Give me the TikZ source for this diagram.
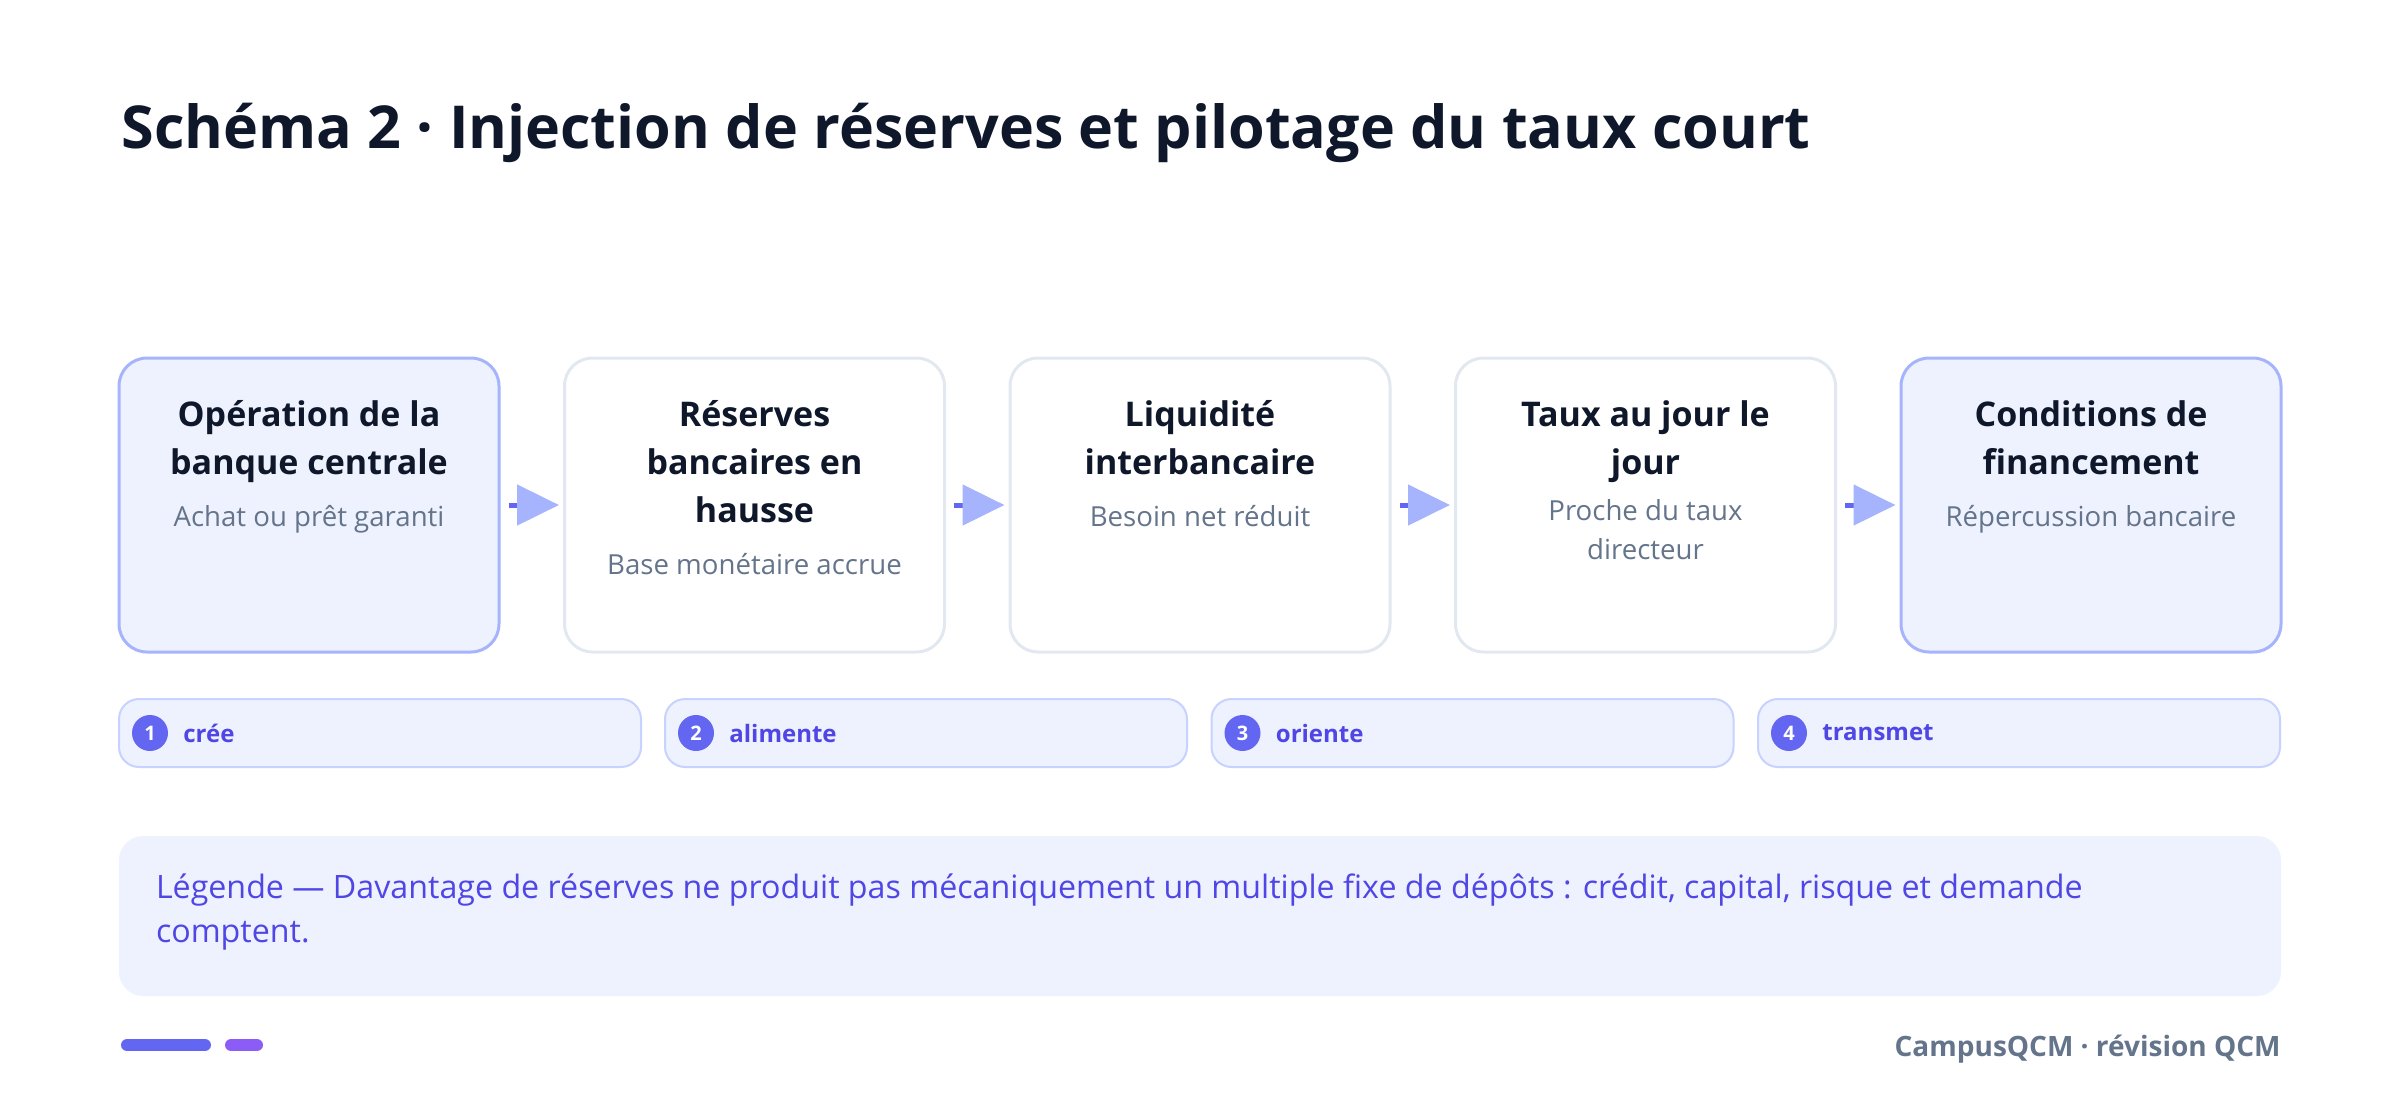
\documentclass[tikz,border=0pt]{standalone}
\usepackage{fontspec}
\setmainfont{Open Sans}
\usetikzlibrary{arrows.meta}

\definecolor{ink}{HTML}{0F172A}
\definecolor{subgray}{HTML}{64748B}
\definecolor{indigo}{HTML}{6366F1}
\definecolor{pillink}{HTML}{4F46E5}
\definecolor{keyfill}{HTML}{EEF2FF}
\definecolor{keyline}{HTML}{A5B4FC}
\definecolor{pillline}{HTML}{C7D2FE}
\definecolor{cardline}{HTML}{E2E8F0}
\definecolor{violet}{HTML}{8B5CF6}

\tikzset{
  card/.style={draw=cardline, fill=white, line width=1.5pt, rounded corners=14pt,
    minimum width=190pt, minimum height=147pt, inner sep=0pt},
  keycard/.style={card, draw=keyline, fill=keyfill},
  cardtitle/.style={anchor=north, align=center, inner sep=0pt, text=ink,
    font=\bfseries\fontsize{17pt}{24pt}\selectfont,
    execute at begin node=\strut, execute at end node=\strut},
  cardsub/.style={anchor=north, align=center, inner sep=0pt, text=subgray,
    font=\fontsize{13.8pt}{19.5pt}\selectfont,
    execute at begin node=\strut, execute at end node=\strut},
  link/.style={line width=2.5pt, draw=indigo,
    -{Triangle[length=21pt, width=20pt, color=keyline]}, shorten <=4pt, shorten >=2pt},
  pill/.style={draw=pillline, fill=keyfill, line width=1pt, rounded corners=10pt,
    minimum width=261pt, minimum height=34pt, inner sep=0pt},
  badge/.style={circle, fill=indigo, minimum size=18pt, inner sep=0pt, text=white,
    font=\bfseries\fontsize{10pt}{10pt}\selectfont},
  pilltext/.style={anchor=west, inner sep=0pt, text=pillink,
    font=\bfseries\fontsize{12pt}{14pt}\selectfont},
}

\begin{document}
\begin{tikzpicture}[x=0.5pt, y=-0.5pt]
    \useasboundingbox (0,0) rectangle (2400,1105);

    % Title
    \node[anchor=base west, inner sep=0pt, text=ink, font=\bfseries\fontsize{29.6pt}{36pt}\selectfont]
      (title) at (121,148) {Schéma 2 · Injection de réserves et pilotage du taux court};

    % Cards
    \node[keycard] (b1) at (309,505) {};
    \node[card] (b2) at (754.5,505) {};
    \node[card] (b3) at (1200,505) {};
    \node[card] (b4) at (1645.5,505) {};
    \node[keycard] (b5) at (2091,505) {};

    % Card texts
    \node[cardtitle] (t1) at ([yshift=-22pt]b1.north) {Opération de la\\banque centrale};
    \node[cardsub] (s1) at ([yshift=-4.6pt]t1.south) {Achat ou prêt garanti};
    \node[cardtitle] (t2) at ([yshift=-22pt]b2.north) {Réserves\\bancaires en\\hausse};
    \node[cardsub] (s2) at ([yshift=-4.6pt]t2.south) {Base monétaire accrue};
    \node[cardtitle] (t3) at ([yshift=-22pt]b3.north) {Liquidité\\interbancaire};
    \node[cardsub] (s3) at ([yshift=-4.6pt]t3.south) {Besoin net réduit};
    \node[cardtitle] (t4) at ([yshift=-22pt]b4.north) {Taux au jour le\\jour};
    \node[cardsub] (s4) at ([yshift=-4.6pt]t4.south) {Proche du taux\\directeur};
    \node[cardtitle] (t5) at ([yshift=-22pt]b5.north) {Conditions de\\financement};
    \node[cardsub] (s5) at ([yshift=-4.6pt]t5.south) {Répercussion bancaire};

    % Arrows between cards
    \draw[link] (b1) -- (b2);
    \draw[link] (b2) -- (b3);
    \draw[link] (b3) -- (b4);
    \draw[link] (b4) -- (b5);

    % Step pills
    \node[pill] (p1) at (380,733) {};
    \node[pill] (p2) at (926,733) {};
    \node[pill] (p3) at (1472.5,733) {};
    \node[pill] (p4) at (2019,733) {};
    \node[badge] (n1) at ([xshift=16pt]p1.west) {1};
    \node[badge] (n2) at ([xshift=16pt]p2.west) {2};
    \node[badge] (n3) at ([xshift=16pt]p3.west) {3};
    \node[badge] (n4) at ([xshift=16pt]p4.west) {4};
    \node[pilltext] (v1) at ([xshift=32.5pt]p1.west) {crée};
    \node[pilltext] (v2) at ([xshift=32.5pt]p2.west) {alimente};
    \node[pilltext] (v3) at ([xshift=32.5pt]p3.west) {oriente};
    \node[pilltext] (v4) at ([xshift=32.5pt]p4.west) {transmet};

    % Legend
    \node[fill=keyfill, rounded corners=12pt, minimum width=1081pt, minimum height=80pt, inner sep=0pt]
      (note) at (1200,916) {};
    \node[anchor=north west, align=left, inner sep=0pt, text=pillink,
      font=\fontsize{16.1pt}{22pt}\selectfont,
      execute at begin node=\strut, execute at end node=\strut]
      (notetext) at ([xshift=18.5pt, yshift=-19pt]note.north west)
      {Légende — Davantage de réserves ne produit pas mécaniquement un multiple fixe de dépôts : crédit, capital, risque et demande\\comptent.};

    % Footer
    \draw[indigo, line width=6pt, line cap=round] (127,1045) -- (205,1045);
    \draw[violet, line width=6pt, line cap=round] (231,1045) -- (257,1045);
    \node[anchor=east, inner sep=0pt, text=subgray, font=\bfseries\fontsize{14pt}{16pt}\selectfont]
      (brand) at (2281,1049) {CampusQCM · révision QCM};
\end{tikzpicture}
\end{document}
